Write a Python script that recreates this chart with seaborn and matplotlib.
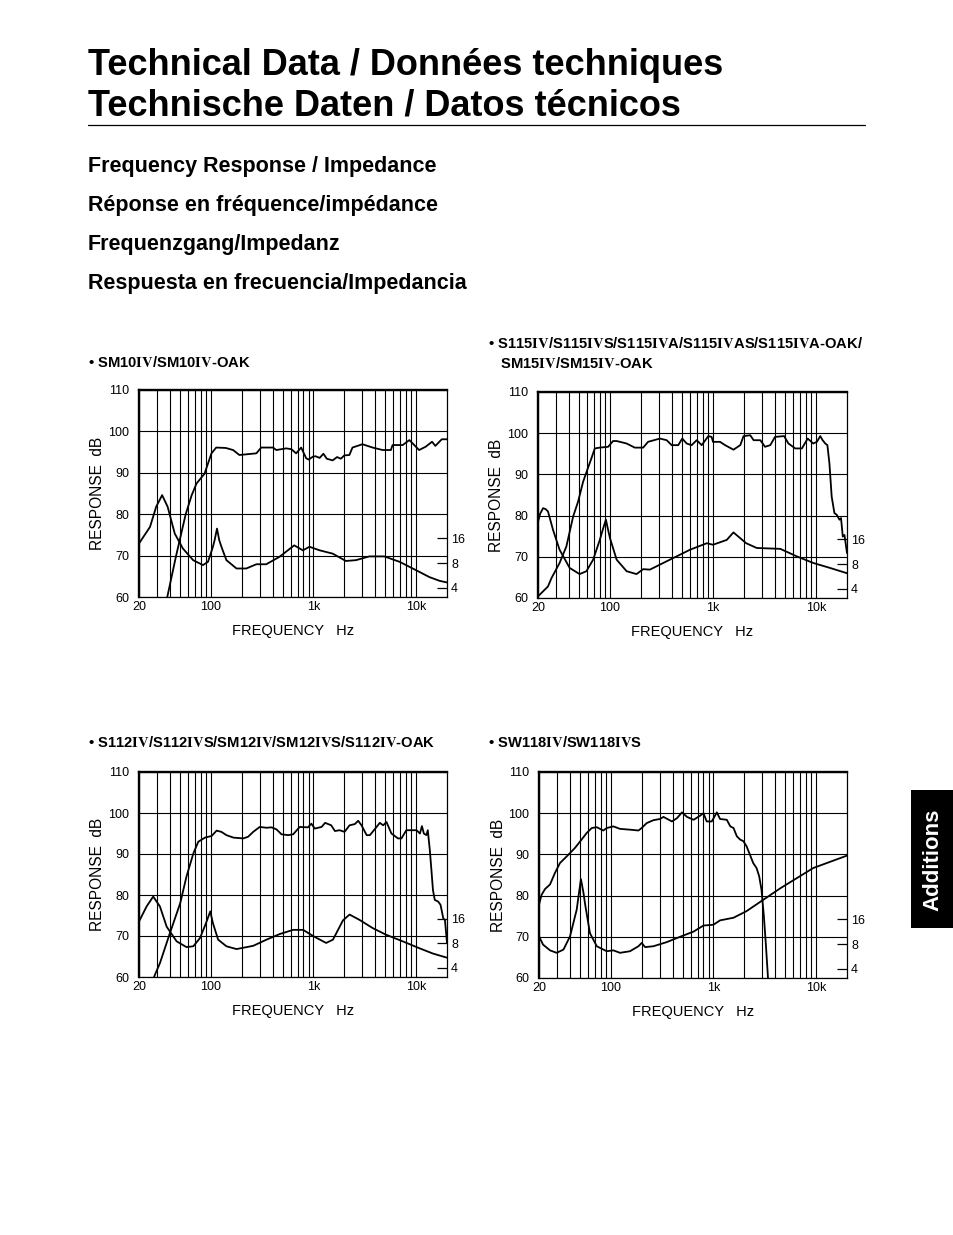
import numpy as np
import matplotlib
matplotlib.use("Agg")
import matplotlib.pyplot as plt
from matplotlib.ticker import FixedLocator, NullLocator, NullFormatter
import seaborn as sns

# ---------------- data ----------------
# frequency (Hz), response (dB SPL)
sm10_resp = [(37.7, 60), (46, 70), (57, 80), (65, 84.5), (72.6, 87.4), (87, 89.8), (101.6, 94.7),
             (113, 96.1), (140, 96.0), (165, 95.5), (190, 94.3), (278, 94.7), (310, 96.1), (404, 96.1),
             (435, 95.5), (543, 95.9), (610, 95.7), (678, 94.7), (760, 96.1), (850, 93.5), (900, 93.2),
             (988, 93.9), (1050, 94.0), (1150, 93.6), (1250, 94.6), (1350, 93.4), (1540, 93.0),
             (1700, 93.8), (1850, 93.4), (2000, 94.2), (2240, 94.3), (2400, 96.1), (3000, 96.9),
             (3770, 96.1), (4720, 95.5), (5680, 95.5), (5900, 96.7), (7400, 96.7), (8600, 97.9),
             (9950, 96.3), (10700, 95.5), (12400, 96.3), (14300, 97.5), (15400, 96.5), (17800, 98.1),
             (20000, 98.1)]
# frequency (Hz), impedance (ohm)
sm10_imp = [(20, 13.8), (25.6, 21.9), (29.4, 38.5), (33.6, 53.2), (38, 38.5), (44.6, 18.2), (53.5, 12.0),
            (67.3, 8.67), (84, 7.55), (94, 8.28), (105, 12.6), (109, 15.1), (115, 20.9), (121, 15.1),
            (127, 12.6), (142, 8.67), (178, 6.87), (222, 6.87), (278, 7.73), (347, 7.73), (467, 9.51),
            (650, 13.1), (790, 11.4), (915, 12.6), (1150, 11.4), (1540, 10.4), (2070, 8.47), (2600, 8.67),
            (3500, 9.62), (4900, 9.62), (6900, 8.28), (9950, 6.57), (13500, 5.40), (16900, 4.87),
            (20000, 4.65)]

s115_resp = [(20, 60.4), (25, 62.8), (27, 64.8), (32.4, 68.5), (37.7, 72.5), (43.9, 79.8), (49, 83.4),
             (54.8, 88.2), (60, 91.0), (66, 93.9), (71.2, 96.3), (79.6, 96.5), (96, 96.7), (107, 98.1),
             (116, 98.1), (145, 97.5), (174, 96.5), (210, 96.5), (234, 97.9), (305, 98.7), (355, 98.3),
             (397, 97.1), (460, 97.1), (503, 98.7), (555, 97.5), (620, 97.1), (695, 98.3), (777, 97.1),
             (901, 99.3), (970, 99.1), (1000, 97.9), (1170, 97.9), (1310, 97.1), (1580, 96.0),
             (1840, 97.1), (1980, 99.3), (2300, 99.5), (2480, 98.3), (2880, 98.3), (3200, 96.7),
             (3600, 97.1), (4000, 99.1), (4900, 99.3), (5400, 97.5), (6300, 96.3), (7300, 96.3),
             (8300, 98.7), (9400, 97.5), (10200, 97.9), (11000, 99.3), (11600, 98.3), (12300, 97.5),
             (12900, 97.1), (13500, 92.7), (14200, 84.6), (15100, 80.6), (15900, 80.2), (16900, 79.0),
             (17500, 79.4), (18200, 74.9), (18900, 75.3), (20000, 70.9)]
s115_imp = [(20, 26.3), (21, 33.0), (22.4, 38.5), (23.7, 37.5), (25, 35.1), (28, 20.9), (32.4, 12.0),
            (40.6, 7.2), (50.7, 6.06), (59, 6.57), (68.6, 9.08), (79.6, 15.8), (86, 22.0), (91.3, 27.9),
            (95, 22.0), (100, 16.6), (116, 9.08), (145, 6.57), (181, 6.06), (210, 6.96), (244, 6.87),
            (329, 8.28), (444, 9.97), (598, 12.0), (870, 14.4), (1000, 13.8), (1360, 15.8), (1580, 19.5),
            (2100, 14.4), (2660, 12.6), (4500, 12.3), (6500, 9.97), (9400, 8.28), (13700, 7.2),
            (20000, 6.21)]

s112_resp = [(28, 60), (32, 63.4), (40, 70.7), (50.4, 78.0), (58, 84.5), (67.6, 90.1), (75.6, 93.0),
             (87.9, 94.0), (102, 94.4), (114, 95.7), (127, 95.4), (142, 94.6), (166, 94.0), (207, 93.8),
             (231, 94.2), (259, 95.4), (300, 96.6), (349, 96.4), (391, 96.5), (437, 96.0), (489, 94.8),
             (567, 94.6), (635, 94.8), (735, 96.6), (884, 96.5), (955, 97.4), (1030, 96.2), (1200, 96.6),
             (1300, 97.6), (1490, 97.0), (1620, 95.6), (1800, 95.8), (2010, 95.4), (2250, 97.0),
             (2530, 97.3), (2730, 98.1), (2940, 97.0), (3300, 94.6), (3550, 94.6), (4120, 96.6),
             (4430, 97.6), (4780, 97.0), (5150, 97.8), (5750, 95.0), (6670, 93.8), (7200, 93.8),
             (8040, 95.8), (9000, 95.8), (10100, 95.8), (10900, 95.0), (11400, 96.8), (11900, 95.0),
             (12600, 94.6), (13000, 95.8), (13600, 91.0), (14100, 86.1), (14600, 81.2), (15200, 78.8),
             (16400, 78.4), (17300, 77.6), (18400, 74.3), (19100, 73.9), (20000, 68.3)]
s112_imp = [(20, 14.8), (23.7, 22.6), (27.5, 29.9), (32, 22.6), (37.2, 12.8), (46.5, 8.47), (58, 7.2),
            (67.6, 7.37), (78.6, 9.3), (89.8, 14.1), (98.9, 19.7), (105, 14.1), (118, 8.88), (142, 7.37),
            (178, 6.81), (224, 7.2), (259, 7.46), (349, 8.88), (470, 10.4), (635, 11.7), (794, 11.7),
            (990, 9.85), (1330, 8.09), (1550, 8.88), (1940, 15.3), (2250, 18.0), (2810, 15.5),
            (3780, 12.3), (5100, 10.2), (7400, 8.47), (10800, 6.96), (14600, 6.0), (20000, 5.34)]

sw118_resp = [(20, 77.8), (21.2, 80.2), (22.9, 81.6), (25.6, 82.7), (28.6, 85.5), (32, 87.9), (38.6, 89.9),
              (44.9, 91.6), (52, 93.6), (58.3, 95.2), (65.3, 96.4), (73.1, 96.6), (84.5, 95.8), (91.3, 96.4),
              (106, 96.8), (123, 96.2), (154, 96.0), (186, 95.8), (200, 96.4), (224, 97.6), (260, 98.3),
              (302, 98.6), (326, 99.1), (394, 98.0), (442, 98.8), (494, 100.2), (553, 99.1), (641, 98.4),
              (742, 99.4), (800, 100.0), (860, 98.0), (963, 98.0), (1080, 100.2), (1160, 98.6),
              (1350, 98.4), (1460, 96.8), (1570, 96.4), (1690, 94.4), (1820, 93.6), (1960, 93.2),
              (2100, 92.0), (2270, 89.9), (2440, 87.9), (2630, 86.7), (2790, 84.7), (2940, 81.4),
              (3100, 75.0), (3250, 67.7), (3400, 60.0)]
sw118_imp = [(20, 9.97), (21.9, 7.91), (25.6, 6.73), (29.7, 6.28), (34.6, 6.87), (40.1, 9.97), (46.6, 21.1),
             (49, 33.5), (51.2, 49.6), (54.3, 33.5), (56, 25.4), (62.7, 10.9), (73.1, 7.55), (91.3, 6.57),
             (106, 6.73), (123, 6.28), (154, 6.57), (186, 7.55), (200, 8.28), (216, 7.37), (260, 7.55),
             (350, 8.47), (474, 9.85), (641, 11.4), (800, 13.5), (1000, 13.8), (1160, 15.6), (1570, 16.8),
             (2100, 20.2), (4500, 38.5), (9400, 67.8), (20000, 95.9)]

titles = ["• SM10$\\mathbf{IV}$/SM10$\\mathbf{IV}$-OAK",
          "• S115$\\mathbf{IV}$/S115$\\mathbf{IV}$S/S115$\\mathbf{IV}$A/S115$\\mathbf{IV}$AS/S115$\\mathbf{IV}$A-OAK/\n"
          "   SM15$\\mathbf{IV}$/SM15$\\mathbf{IV}$-OAK",
          "• S112$\\mathbf{IV}$/S112$\\mathbf{IV}$S/SM12$\\mathbf{IV}$/SM12$\\mathbf{IV}$S/S112$\\mathbf{IV}$-OAK",
          "• SW118$\\mathbf{IV}$/SW118$\\mathbf{IV}$S"]

db_ticks = [60, 70, 80, 90, 100, 110]
hz_ticks = [20, 100, 1000, 10000]
hz_ticklabels = ["20", "100", "1k", "10k"]
hz_minor = [30, 40, 50, 60, 70, 80, 90, 200, 300, 400, 500, 600, 700, 800, 900,
            2000, 3000, 4000, 5000, 6000, 7000, 8000, 9000]
ohm_ticks = [4, 8, 16]

# ---------------- style ----------------
sns.set_style("white")
plt.rcParams["font.family"] = ["Liberation Sans", "DejaVu Sans"]
plt.rcParams["mathtext.fontset"] = "stix"
for key in ["text.color", "axes.labelcolor", "xtick.color", "ytick.color", "axes.edgecolor"]:
    plt.rcParams[key] = "black"

W, H = 954, 1235
fig = plt.figure(figsize=(W / 100, H / 100), dpi=100)


def fx(px):
    return px / W


def fy(py):
    return 1 - py / H


# headings
fig.text(fx(88), fy(75), "Technical Data / Données techniques", fontsize=26, weight="bold", va="baseline")
fig.text(fx(88), fy(115), "Technische Daten / Datos técnicos", fontsize=26, weight="bold", va="baseline")
fig.add_artist(plt.Line2D([fx(88), fx(865)], [fy(125), fy(125)], color="black", lw=0.9))
for text, base in zip(["Frequency Response / Impedance", "Réponse en fréquence/impédance",
                       "Frequenzgang/Impedanz", "Respuesta en frecuencia/Impedancia"],
                      [172, 211, 250, 289]):
    fig.text(fx(88), fy(base), text, fontsize=15.5, weight="bold", va="baseline")

# "Additions" tab
fig.add_artist(plt.Rectangle((fx(911), fy(928)), fx(954) - fx(911), fy(790) - fy(928),
                             color="black", lw=0))
fig.text(fx(933), fy(860), "Additions", rotation=90, color="white", fontsize=16, weight="bold",
         ha="center", va="center")

panels = [
    (sm10_resp, sm10_imp, (139, 390, 447, 597), titles[0], (88, 367)),
    (s115_resp, s115_imp, (538, 392, 847, 598), titles[1], (488, 368)),
    (s112_resp, s112_imp, (139, 772, 447, 977), titles[2], (88, 747)),
    (sw118_resp, sw118_imp, (539, 772, 847, 978), titles[3], (488, 747)),
]

for resp, imp, (l, t, r, b), title, (tx, ty) in panels:
    ax = fig.add_axes([fx(l), fy(b), (r - l) / W, (b - t) / H])
    ax.set_xscale("log")
    ax.set_xlim(20, 20000)
    ax.set_ylim(60, 110)

    rh, rd = zip(*resp)
    sns.lineplot(x=list(rh), y=list(rd), ax=ax, color="black", linewidth=1.3,
                 estimator=None, sort=False)

    ax.xaxis.set_major_locator(FixedLocator(hz_ticks))
    ax.set_xticklabels(hz_ticklabels)
    ax.xaxis.set_minor_locator(FixedLocator(hz_minor))
    ax.xaxis.set_minor_formatter(NullFormatter())
    ax.set_yticks(db_ticks)
    ax.grid(True, which="both", axis="x", color="black", lw=0.8)
    ax.grid(True, which="major", axis="y", color="black", lw=0.8)
    ax.tick_params(axis="both", which="both", length=0, labelsize=9)
    ax.tick_params(axis="y", pad=7)
    ax.tick_params(axis="x", pad=3)
    ax.set_xlabel("FREQUENCY   Hz", fontsize=10.5, labelpad=8)
    ax.set_ylabel("RESPONSE  dB", fontsize=11.2, labelpad=2)
    for side in ["top", "left"]:
        ax.spines[side].set_linewidth(1.7)
    for side in ["bottom", "right"]:
        ax.spines[side].set_linewidth(0.9)
    for sp in ax.spines.values():
        sp.set_color("black")

    ax2 = ax.twinx()
    ax2.set_yscale("log", base=2)
    ax2.set_ylim(3.10, 1000)
    ih, io = zip(*imp)
    sns.lineplot(x=list(ih), y=list(io), ax=ax2, color="black", linewidth=1.3,
                 estimator=None, sort=False)
    ax2.set_xlim(20, 20000)
    ax2.yaxis.set_major_locator(FixedLocator(ohm_ticks))
    ax2.set_yticklabels([str(v) for v in ohm_ticks])
    ax2.yaxis.set_minor_locator(NullLocator())
    ax2.tick_params(axis="y", which="major", direction="in", length=7.5, width=0.9,
                    pad=3, labelsize=9, right=True, left=False)
    ax2.set_ylabel("")
    ax2.grid(False)
    for sp in ax2.spines.values():
        sp.set_visible(False)

    fig.text(fx(tx), fy(ty), title, fontsize=10.6, weight="bold", va="baseline",
             linespacing=1.45)

fig.savefig("out.png", dpi=100)
